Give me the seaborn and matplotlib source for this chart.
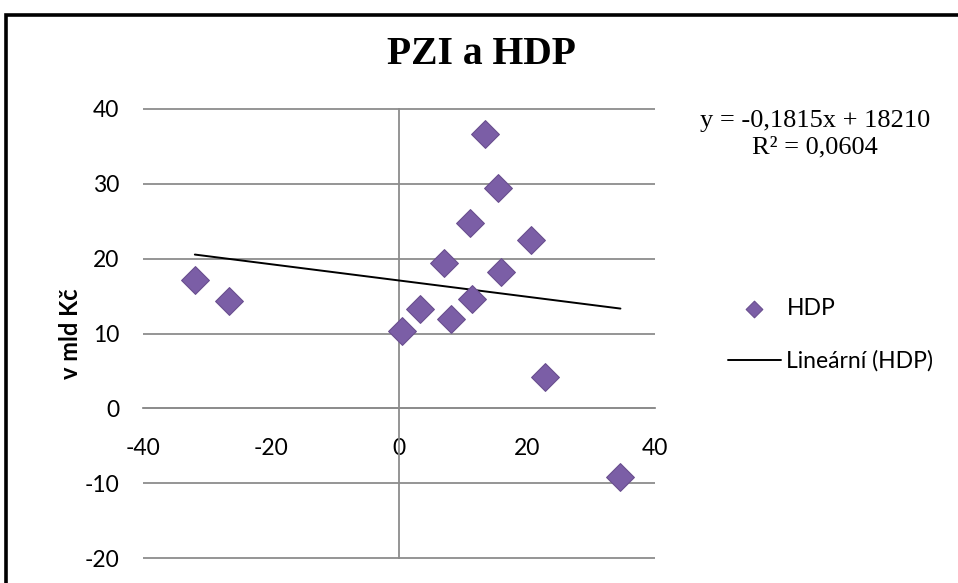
import matplotlib
matplotlib.use("Agg")
import matplotlib.pyplot as plt
import seaborn as sns
import numpy as np
import pandas as pd
from matplotlib.patches import Rectangle

# Data
pzi = [-31.9, -26.6, 0.5, 3.3, 8.1, 7.1, 11.4, 11.1, 13.5, 15.5, 16.0, 20.6, 22.8, 34.6]
hdp = [17.2, 14.4, 10.3, 13.3, 11.9, 19.4, 14.6, 24.8, 36.7, 29.4, 18.2, 22.5, 4.2, -9.2]
x_ticks = [-40, -20, 0, 20, 40]
y_ticks = [-20, -10, 0, 10, 20, 30, 40]
title = "PZI a HDP"
ylabel = "v mld Kč"
equation = "y = -0,1815x + 18210\nR² = 0,0604"
series_label = "HDP"
trend_label = "Lineární (HDP)"

df = pd.DataFrame({"PZI": pzi, "HDP": hdp})

sns.set_style("white")
plt.rcParams["font.family"] = ["Lato", "DejaVu Sans"]
plt.rcParams["axes.unicode_minus"] = False
plt.rcParams["text.color"] = "black"
plt.rcParams["xtick.labelcolor"] = "black"
plt.rcParams["ytick.labelcolor"] = "black"

W, H = 958, 583
fig = plt.figure(figsize=(W / 100, H / 100), dpi=100)

# axes placement in pixels
ylo, yhi = -20.2, 40.2
px_per_unit_y = 74.9 / 10
top_px = 109 - (yhi - 40) * px_per_unit_y
bot_px = 558 + (-20 - ylo) * px_per_unit_y
left_px, right_px = 143, 655
ax = fig.add_axes([left_px / W, 1 - bot_px / H, (right_px - left_px) / W, (bot_px - top_px) / H])

grid_color = "#8c8c8c"
ax.set_xlim(-40, 40)
ax.set_ylim(ylo, yhi)
ax.set_yticks(y_ticks)
ax.set_xticks(x_ticks)
ax.yaxis.grid(True, color=grid_color, linewidth=1.3)
ax.xaxis.grid(False)
for s in ["top", "right", "left"]:
    ax.spines[s].set_visible(False)
ax.spines["bottom"].set_position(("data", 0))
ax.spines["bottom"].set_color(grid_color)
ax.spines["bottom"].set_linewidth(1.3)
ax.axvline(0, color=grid_color, linewidth=1.3, zorder=1)
ax.tick_params(axis="y", length=0, pad=17, labelsize=16.5, labelcolor="black")
ax.tick_params(axis="x", direction="out", length=5, width=1.3, color=grid_color, pad=16,
               labelsize=16.5, labelcolor="black")
ax.set_facecolor("none")

sns.regplot(data=df, x="PZI", y="HDP", scatter=False, ci=None, ax=ax,
            color="black", line_kws={"linewidth": 1.4, "zorder": 2}, label=trend_label)
sns.scatterplot(data=df, x="PZI", y="HDP", marker="D", s=200, color="#7b5ea6",
                edgecolor="#6a4f8f", linewidth=0.8, ax=ax, zorder=3, label=series_label)

ax.set_xlabel("")
ax.set_ylabel("")

handles, labels = ax.get_legend_handles_labels()
if ax.legend_ is not None:
    ax.legend_.remove()
order = [labels.index(series_label), labels.index(trend_label)]
leg = fig.legend([handles[i] for i in order], [labels[i] for i in order],
                 loc="center left", bbox_to_anchor=(728 / W, 1 - 335 / H),
                 frameon=False, fontsize=16.5, handlelength=2.3, handletextpad=0.25,
                 labelspacing=1.35, borderpad=0, borderaxespad=0, markerscale=0.6)

fig.text(481 / W, 1 - 55 / H, title, ha="center", va="center", fontsize=28.5,
         fontweight="bold", family=["Liberation Serif", "DejaVu Serif"], color="black")
fig.text(70 / W, 1 - 334 / H, ylabel, ha="center", va="center", rotation=90,
         fontsize=17, fontweight="bold", color="black")
fig.text(815 / W, 1 - 134 / H, equation, ha="center", va="center", fontsize=19,
         family=["Liberation Serif", "DejaVu Serif"], linespacing=1.25, color="black")

# outer frame (left and top visible, rest cropped)
fig.patches.append(Rectangle((6 / W, -0.2), 1.2, 1 - 14.5 / H + 0.2, transform=fig.transFigure,
                             fill=False, edgecolor="black", linewidth=2.6))

fig.savefig("out.png", dpi=100)
